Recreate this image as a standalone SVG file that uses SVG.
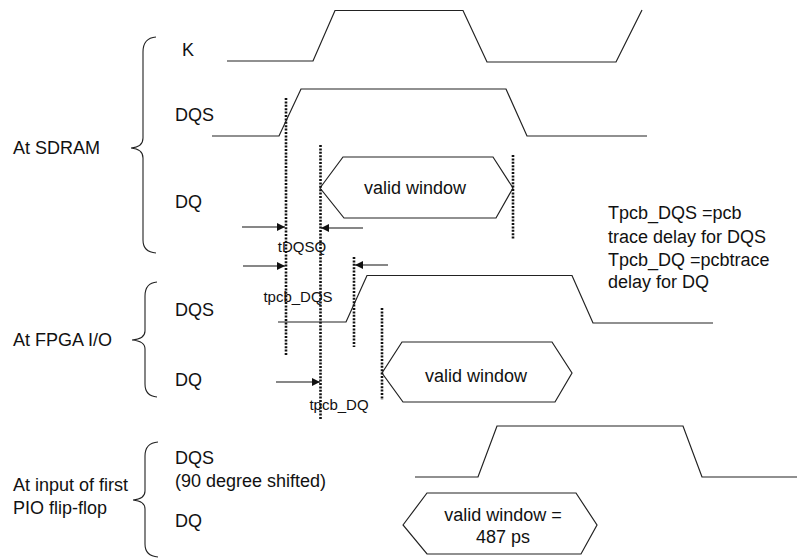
<svg xmlns="http://www.w3.org/2000/svg" width="798" height="559" viewBox="0 0 798 559">
<style>
text{font-family:"Liberation Sans",Arial,sans-serif;fill:#111}
.t{font-size:18px}
.s{font-size:15px}
.w{fill:none;stroke:#222;stroke-width:1.2;stroke-linejoin:miter}
.d{fill:none;stroke:#111;stroke-width:2.6;stroke-dasharray:2 1.4}
.a{fill:none;stroke:#111;stroke-width:1.2}
.b{fill:none;stroke:#222;stroke-width:1.1}
</style>
<defs>
<marker id="ah" viewBox="0 0 10 10" refX="10" refY="5" markerWidth="8" markerHeight="8" markerUnits="userSpaceOnUse" orient="auto">
<path d="M0,0 L10,5 L0,10 z" fill="#111"/>
</marker>
</defs>
<rect width="798" height="559" fill="#fff"/>
<g id="labels-left">
<text class="t" x="13" y="154">At SDRAM</text>
<text class="t" x="13" y="346">At FPGA I/O</text>
<text class="t" x="13" y="491">At input of first</text>
<text class="t" x="13" y="514">PIO flip-flop</text>
</g>
<g id="braces">
<path class="b" d="M156,37 Q143,38 143,52 L143,138 Q143,147 131,148 Q143,149 143,158 L143,240 Q143,252 156,253"/>
<path class="b" d="M157,282 Q145,283 145,296 L145,331 Q145,339 132,340 Q145,341 145,349 L145,384 Q145,396 157,397"/>
<path class="b" d="M158,442 Q145,443 145,456 L145,491 Q145,499 133,500 Q145,501 145,509 L145,544 Q145,556 158,557"/>
</g>
<g id="signal-names">
<text class="t" x="182" y="56">K</text>
<text class="t" x="175" y="121">DQS</text>
<text class="t" x="175" y="208">DQ</text>
<text class="t" x="175" y="316">DQS</text>
<text class="t" x="175" y="386">DQ</text>
<text class="t" x="175" y="464">DQS</text>
<text class="t" x="175" y="487">(90 degree shifted)</text>
<text class="t" x="175" y="527">DQ</text>
</g>
<g id="waveforms">
<polyline id="k" class="w" points="227,61 313,61 335,10.5 463,10.5 487,62 616,62 642,10"/>
<polyline id="dqs-sdram" class="w" points="212,136 279,136 301,89 506,89 527,136 647,136"/>
<polygon id="dq-sdram" class="w" points="320,188 343,157 493,157 513,188 496,218 344,218"/>
<polyline id="dqs-fpga" class="w" points="278,322 346,322 367,275.5 572,275.5 593,323 713,323"/>
<polygon id="dq-fpga" class="w" points="382,373 402,342 552,342 572,373 555,402 403,402"/>
<polyline id="dqs-pio" class="w" points="415,477 478,477 497,426 683,426 702,477 797,477"/>
<polygon id="dq-pio" class="w" points="403,525 427,493 576,493 597,525 581,554 427,554"/>
</g>
<g id="window-texts">
<text class="t" x="415" y="194" text-anchor="middle">valid window</text>
<text class="t" x="476" y="382" text-anchor="middle">valid window</text>
<text class="t" x="503" y="521" text-anchor="middle">valid window =</text>
<text class="t" x="503" y="543" text-anchor="middle">487 ps</text>
</g>
<g id="connectors">
<line class="d" x1="286" y1="98" x2="286" y2="355"/>
<line class="d" x1="320.5" y1="145" x2="320.5" y2="420"/>
<line class="d" x1="513" y1="155" x2="513" y2="240"/>
<line class="d" x1="354" y1="257" x2="354" y2="347"/>
<line class="d" x1="382" y1="308" x2="382" y2="400"/>
<line class="a" x1="242" y1="227" x2="285" y2="227" marker-end="url(#ah)"/>
<line class="a" x1="363" y1="228" x2="321" y2="228" marker-end="url(#ah)"/>
<line class="a" x1="243" y1="266" x2="285" y2="266" marker-end="url(#ah)"/>
<line class="a" x1="388" y1="265" x2="355" y2="265" marker-end="url(#ah)"/>
<line class="a" x1="276" y1="382" x2="320" y2="382" marker-end="url(#ah)"/>
</g>
<g id="timing-labels">
<text class="s" x="302" y="252" text-anchor="middle">tDQSQ</text>
<text class="s" x="298" y="302" text-anchor="middle">tpcb_DQS</text>
<text class="s" x="339" y="410" text-anchor="middle">tpcb_DQ</text>
</g>
<g id="notes">
<text class="t" x="608" y="219">Tpcb_DQS =pcb</text>
<text class="t" x="608" y="243">trace delay for DQS</text>
<text class="t" x="608" y="266">Tpcb_DQ =pcbtrace</text>
<text class="t" x="608" y="288">delay for DQ</text>
</g>
</svg>
